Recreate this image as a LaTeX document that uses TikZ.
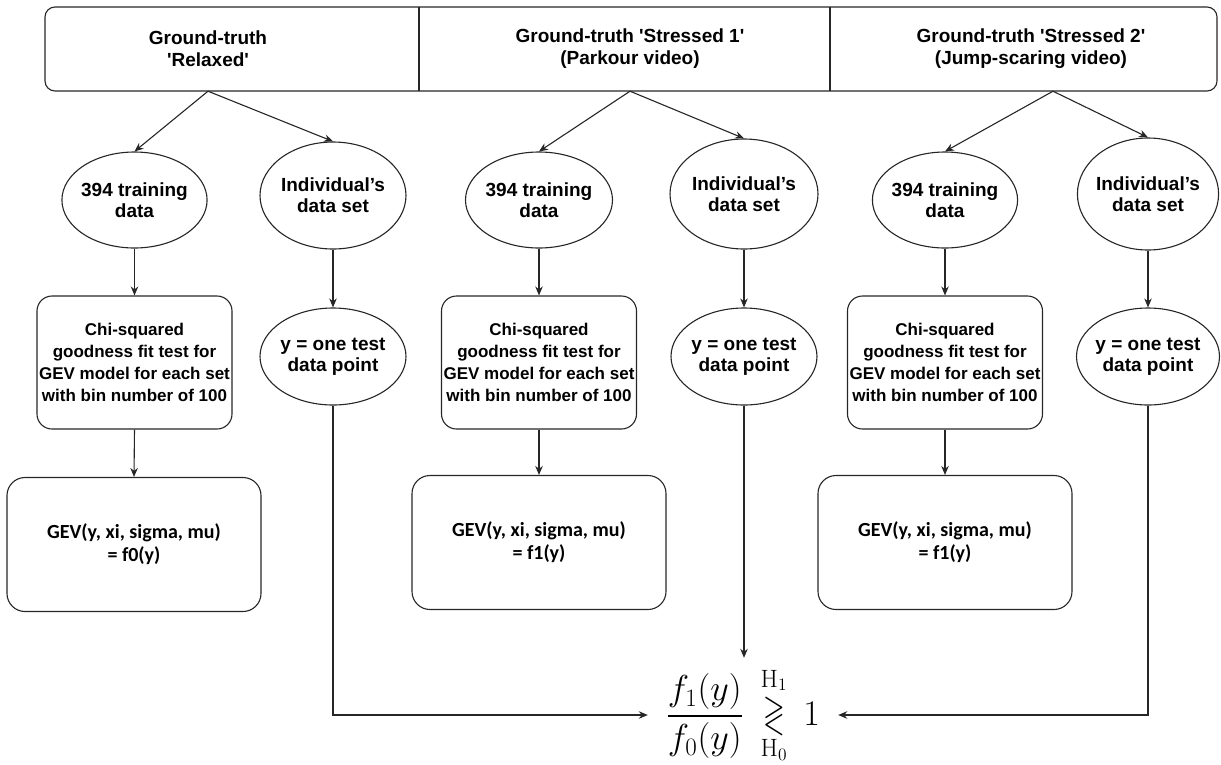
\documentclass[tikz,border=0pt]{standalone}
\usepackage{amsmath,amssymb,graphicx}
\usepackage[no-math]{fontspec}
\setmainfont{Liberation Sans}
% plain family without TeX ligatures, so ' stays a straight quote
\newfontfamily\plainsans{Liberation Sans}
\newfontfamily\calibri{Carlito}
\usetikzlibrary{shapes.geometric,arrows.meta}

\begin{document}
\begin{tikzpicture}[x=1pt,y=-1pt,
  ink/.style={draw=black!85, line width=1.1pt},
  conn/.style={ink, -{Stealth[length=9pt,width=7.5pt]}},
  head/.style={font=\plainsans\bfseries\fontsize{19}{22}\selectfont, align=center,
    minimum height=84pt, inner sep=0pt},
  oval/.style={ellipse, ink, fill=white, font=\fontsize{19}{21}\selectfont\bfseries,
    align=center, inner xsep=-2pt, inner ysep=0pt},
  chibox/.style={rectangle, rounded corners=15pt, ink, minimum width=195pt,
    minimum height=133pt, font=\fontsize{17}{22}\selectfont\bfseries,
    align=center, inner sep=0pt},
  gevbox/.style={rectangle, rounded corners=18pt, ink, minimum width=254pt,
    minimum height=134pt, font=\calibri\bfseries\fontsize{20}{23}\selectfont,
    align=center, inner sep=0pt}
]
\useasboundingbox (0,0) rectangle (1221,764);

% header row: one frame split into three cells
\draw[ink, rounded corners=10pt] (45,7) rectangle (1217,91);
\draw[ink] (419,7) -- (419,91);
\draw[ink] (830,7) -- (830,91);
\node[head] (gt0) at (208,49) {Ground-truth\\'Relaxed'};
\node[head] (gt1) at (630,49) {Ground-truth 'Stressed 1'\\(Parkour video)};
\node[head] (gt2) at (1031,49) {Ground-truth 'Stressed 2'\\(Jump-scaring video)};

% data sources
\node[oval, minimum width=145pt, minimum height=96pt]  (tr0) at (134.5,200) {394 training\\data};
\node[oval, minimum width=146pt, minimum height=107pt] (in0) at (333,195.5) {Individual’s\\data set};
\node[oval, minimum width=147pt, minimum height=96pt]  (tr1) at (539,200) {394 training\\data};
\node[oval, minimum width=148pt, minimum height=110pt] (in1) at (744,194) {Individual’s\\data set};
\node[oval, minimum width=145pt, minimum height=96pt]  (tr2) at (945,200) {394 training\\data};
\node[oval, minimum width=141pt, minimum height=112pt] (in2) at (1148,194) {Individual’s\\data set};

% test points
\node[oval, minimum width=146pt, minimum height=97pt] (y0) at (333,356.5) {y = one test\\data point};
\node[oval, minimum width=146pt, minimum height=97pt] (y1) at (744,356.5) {y = one test\\data point};
\node[oval, minimum width=143pt, minimum height=97pt] (y2) at (1148,356.5) {y = one test\\data point};

% goodness-of-fit steps
\node[chibox] (chi0) at (134.5,362.5) {Chi-squared\\goodness fit test for\\GEV model for each set\\with bin number of 100};
\node[chibox] (chi1) at (539,362.5) {Chi-squared\\goodness fit test for\\GEV model for each set\\with bin number of 100};
\node[chibox] (chi2) at (945,362.5) {Chi-squared\\goodness fit test for\\GEV model for each set\\with bin number of 100};

% fitted densities
\node[gevbox] (gev0) at (134,544.5) {GEV(y, xi, sigma, mu)\\= f0(y)};
\node[gevbox] (gev1) at (539,542.5) {GEV(y, xi, sigma, mu)\\= f1(y)};
\node[gevbox] (gev2) at (945,542.5) {GEV(y, xi, sigma, mu)\\= f1(y)};

% likelihood-ratio test
\node[minimum width=190pt, minimum height=114pt, inner sep=0pt] (ratio) at (743,715)
  {\scalebox{1.45}{\fontsize{24}{28}\selectfont
   $\dfrac{f_1(y)}{f_0(y)}\hspace{12pt}
    \underset{\raisebox{-2pt}{$\scriptstyle\mathrm{H}_0$}}
     {\overset{\raisebox{2pt}{$\scriptstyle\mathrm{H}_1$}}{\scalebox{0.8}[1.2]{$\gtrless$}}}
    \hspace{11pt}1$}};

% connectors
\foreach \i in {0,1} {
  \draw[conn] (gt\i.south) -- (tr\i.north);
  \draw[conn] (gt\i.south) -- (in\i.north);
}
\draw[conn] ([xshift=22pt]gt2.south) -- (tr2.north);
\draw[conn] ([xshift=22pt]gt2.south) -- (in2.north);
\foreach \i in {0,1,2} {
  \draw[conn] (tr\i.south) -- (chi\i.north);
  \draw[conn] (chi\i.south) -- (gev\i.north);
  \draw[conn] (in\i.south) -- (y\i.north);
}
\draw[conn] (y0.south) |- (ratio.west);
\draw[conn] (y1.south) -- (y1.south |- ratio.north);
\draw[conn] (y2.south) |- (ratio.east);
\end{tikzpicture}
\end{document}
